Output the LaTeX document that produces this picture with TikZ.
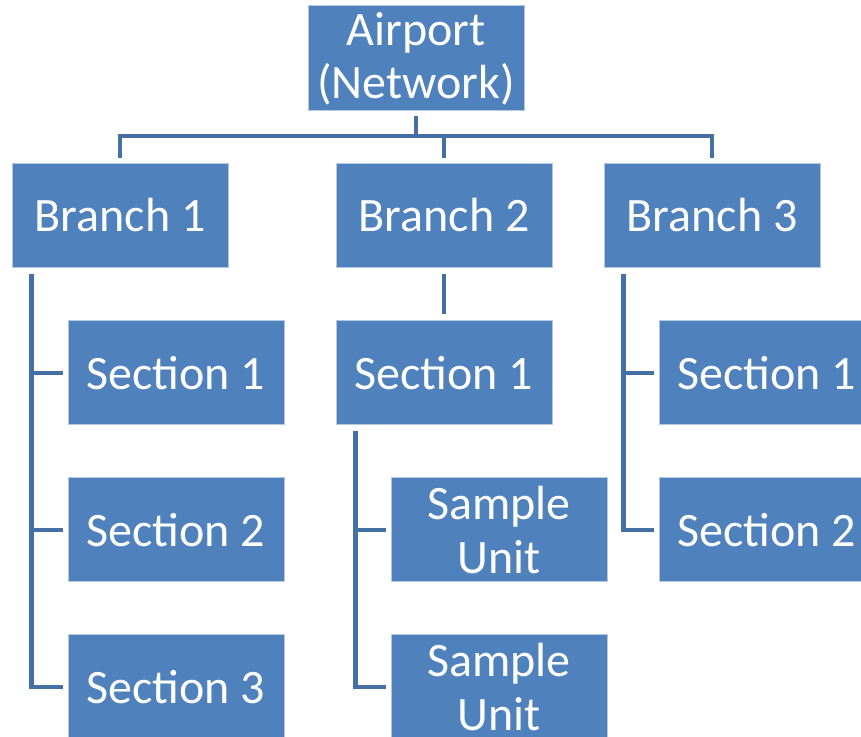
\documentclass[tikz,border=0pt]{standalone}
\usepackage{fontspec}
\setmainfont{Carlito}
\usetikzlibrary{calc}
\definecolor{boxfill}{HTML}{4F81BD}
\definecolor{boxedge}{HTML}{B4C8E2}
\definecolor{linkcol}{HTML}{4470A6}
\tikzset{
  unit/.style={rectangle, fill=boxfill, draw=boxedge, line width=0.75pt,
    minimum width=162pt, minimum height=78pt, inner sep=0pt,
    text=white, align=center,
    font=\fontsize{36pt}{40pt}\selectfont},
  link/.style={draw=linkcol, line width=3.4pt, line join=miter, line cap=butt}
}
\begin{document}
\begin{tikzpicture}[x=0.75pt,y=-0.75pt]
\useasboundingbox (0,0) rectangle (861,737);
\clip (0,0) rectangle (861,737);
\fill[white] (0,0) rectangle (861,737);

% root
\node[unit, minimum height=78.75pt] (air) at (416,58.5) {Airport\\(Network)};

% branches
\node[unit] (b1) at (120,215.5) {Branch 1};
\node[unit] (b2) at (444,215.5) {Branch 2};
\node[unit] (b3) at (712,215.5) {Branch 3};

% branch 1 sections
\node[unit] (s11) at (176,373) {Section 1};
\node[unit] (s12) at (176,530) {Section 2};
\node[unit] (s13) at (176,687) {Section 3};

% branch 2 section and units
\node[unit] (s21) at (444,373) {Section 1};
\node[unit] (u1) at (499,530) {Sample\\Unit};
\node[unit] (u2) at (499,687) {Sample\\Unit};

% branch 3 sections
\node[unit] (s31) at (767,373) {Section 1};
\node[unit] (s32) at (767,530) {Section 2};

% root to branches
\coordinate (rootlow) at ($(air.south)+(0,5)$);
\coordinate (bar) at ($(air.south)+(0,24.5)$);
\coordinate (b1top) at ($(b1.north)+(0,-5)$);
\coordinate (b2top) at ($(b2.north)+(0,-5)$);
\coordinate (b3top) at ($(b3.north)+(0,-5)$);
\draw[link] (rootlow) -- (bar);
\draw[link] (b1top) |- (bar -| b3top) -- (b3top);
\draw[link] (bar -| b2top) -- (b2top);

% branch 1 tree
\coordinate (t1) at ($(b1.south west)+(20,6)$);
\draw[link] (t1) |- ($(s13.west)+(-5,0)$);
\draw[link] (t1 |- s11.west) -- ($(s11.west)+(-5,0)$);
\draw[link] (t1 |- s12.west) -- ($(s12.west)+(-5,0)$);

% branch 2 tree
\draw[link] ($(b2.south)+(0,6)$) -- ($(s21.north)+(0,-6)$);
\coordinate (t2) at ($(s21.south west)+(20,6)$);
\draw[link] (t2) |- ($(u2.west)+(-5,0)$);
\draw[link] (t2 |- u1.west) -- ($(u1.west)+(-5,0)$);

% branch 3 tree
\coordinate (t3) at ($(b3.south west)+(20,6)$);
\draw[link] (t3) |- ($(s32.west)+(-5,0)$);
\draw[link] (t3 |- s31.west) -- ($(s31.west)+(-5,0)$);
\end{tikzpicture}
\end{document}
